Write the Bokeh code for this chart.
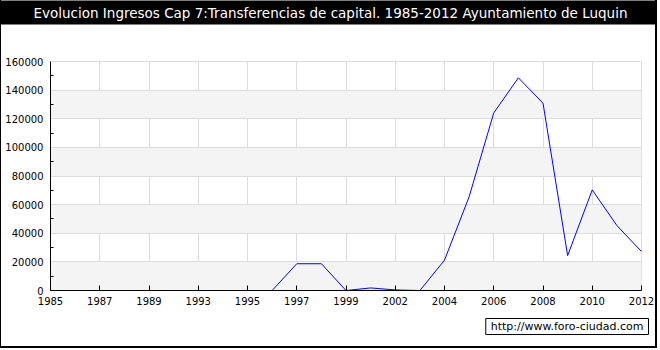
from bokeh.plotting import figure
from bokeh.models import FixedTicker, Range1d, Title
from bokeh.embed import file_html
from bokeh.resources import INLINE

title_text = "Evolucion Ingresos Cap 7:Transferencias de capital. 1985-2012 Ayuntamiento de Luquin"
watermark = "http://www.foro-ciudad.com"

years = ["1985", "1986", "1987", "1988", "1989", "1990", "1993", "1994", "1995",
         "1996", "1997", "1998", "1999", "2000", "2002", "2003", "2004", "2005",
         "2006", "2007", "2008", "2009", "2010", "2011", "2012"]
values = [0, 0, 0, 0, 0, 0, 0, 0, 0,
          0, 18700, 18700, 0, 1800, 400, 0, 21200, 65500,
          124100, 148600, 130900, 24400, 70300, 45400, 27200]
y_ticks = [0, 20000, 40000, 60000, 80000, 100000, 120000, 140000, 160000]

FONT = "DejaVu Sans"

p = figure(width=657, height=348, output_backend="svg", toolbar_location=None,
           x_range=Range1d(0, len(years) - 1), y_range=Range1d(0, 160000),
           min_border_left=49, min_border_right=17, min_border_top=0,
           min_border_bottom=58, background_fill_color="white",
           border_fill_color="white", outline_line_color="#dcdcdc")
p.styles = {"border-left": "1px solid black", "border-right": "2px solid black",
            "border-bottom": "2px solid black"}

xs = list(range(len(years)))
p.line(xs, values, line_color="#0000ff", line_width=1)

# x axis
xt = [i for i in range(0, len(years), 2)]
p.xaxis.ticker = FixedTicker(ticks=xt)
p.xaxis.major_label_overrides = {i: years[i] for i in xt}
p.xaxis.major_tick_in = 5
p.xaxis.major_tick_out = 0
p.xaxis.minor_tick_line_color = None
p.xaxis.axis_line_color = "black"
p.xaxis.major_tick_line_color = "black"
p.xaxis.major_label_text_font = FONT
p.xaxis.major_label_text_font_size = "10px"
p.xaxis.major_label_text_color = "black"
p.xaxis.major_label_standoff = 6

# y axis
p.yaxis.ticker = FixedTicker(ticks=y_ticks,
                             minor_ticks=[v + 10000 for v in y_ticks[:-1]])
p.yaxis.major_label_overrides = {v: str(v) for v in y_ticks}
p.yaxis.major_tick_in = 0
p.yaxis.major_tick_out = 0
p.yaxis.minor_tick_in = 3
p.yaxis.minor_tick_out = 0
p.yaxis.minor_tick_line_color = "black"
p.yaxis.axis_line_color = "black"
p.yaxis.major_label_text_font = FONT
p.yaxis.major_label_text_font_size = "10px"
p.yaxis.major_label_text_color = "black"
p.yaxis.major_label_standoff = 7

# grids (leading duplicate 0 shifts the band parity so 0-20000 is shaded)
p.xgrid.grid_line_color = "#dcdcdc"
p.ygrid.grid_line_color = "#dcdcdc"
p.ygrid.ticker = FixedTicker(ticks=[0] + y_ticks)
p.ygrid.band_fill_color = "#f4f4f4"
p.ygrid.band_fill_alpha = 1.0

# spacer between title bar and plot area (closest to frame)
p.add_layout(Title(text=" ", text_font_size="1px", standoff=32,
                   text_color="white"), "above")
# title bar (padding order: left, right, top, bottom)
p.add_layout(Title(text=title_text, align="left", offset=-417, vertical_align="top",
                   standoff=0, text_font=FONT, text_font_size="13.5px",
                   text_font_style="normal", text_color="white",
                   background_fill_color="black", background_fill_alpha=1.0,
                   padding=(400, 400, 4, 4)), "above")

# watermark
p.add_layout(Title(text=watermark, align="right", offset=-7, vertical_align="top",
                   standoff=22, text_font=FONT, text_font_size="11px",
                   text_font_style="normal", text_color="black",
                   background_fill_color="white", background_fill_alpha=1.0,
                   border_line_color="black", border_line_width=1,
                   padding=(5, 5, 1, 2)), "below")

open("out.html", "w").write(file_html(p, INLINE))
